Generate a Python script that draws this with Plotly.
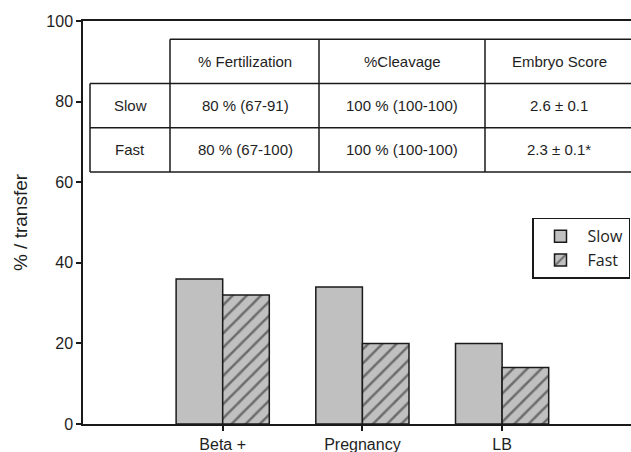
import plotly.graph_objects as go

categories = ["Beta +", "Pregnancy", "LB"]
slow_values = [36, 34, 20]
fast_values = [32, 20, 14]
y_ticks = [0, 20, 40, 60, 80, 100]

table_headers = ["% Fertilization", "%Cleavage", "Embryo Score"]
table_rows = ["Slow", "Fast"]
table_cells = [
    ["80 % (67-91)", "100 % (100-100)", "2.6 ± 0.1"],
    ["80 % (67-100)", "100 % (100-100)", "2.3 ± 0.1*"],
]

W, H = 631, 452
L, R, T, B = 83, 0, 21, 28
plot_w = W - L - R
cat_px = 139.7

def px_to_paper(px):
    return (px - L) / plot_w

LINE = "#1a1a1a"
TXT = "#1e1e1e"
FONT = "Liberation Sans, Arial, sans-serif"

fig = go.Figure()
fig.add_trace(go.Bar(
    x=categories, y=slow_values, name="Slow",
    marker=dict(color="#c0c0c0", line=dict(color=LINE, width=1.5)),
))
fig.add_trace(go.Bar(
    x=categories, y=fast_values, name="Fast",
    marker=dict(color="#c0c0c0", line=dict(color=LINE, width=1.5),
                pattern=dict(shape="/", fgcolor=LINE, bgcolor="#c0c0c0",
                             size=10, solidity=0.25)),
))

# table grid
col_px = [90, 170, 319, 485, W + 5]
row_y = [95.5, 84.5, 73.5, 62.5]
shapes = []
lw = 1.5
shapes.append(dict(type="line", xref="paper", yref="y", x0=px_to_paper(col_px[1]), x1=px_to_paper(col_px[-1]),
                   y0=row_y[0], y1=row_y[0], line=dict(color=LINE, width=lw)))
for yv in row_y[1:]:
    shapes.append(dict(type="line", xref="paper", yref="y", x0=px_to_paper(col_px[0]), x1=px_to_paper(col_px[-1]),
                       y0=yv, y1=yv, line=dict(color=LINE, width=lw)))
shapes.append(dict(type="line", xref="paper", yref="y", x0=px_to_paper(col_px[0]), x1=px_to_paper(col_px[0]),
                   y0=row_y[1], y1=row_y[3], line=dict(color=LINE, width=lw)))
for c in col_px[1:4]:
    shapes.append(dict(type="line", xref="paper", yref="y", x0=px_to_paper(c), x1=px_to_paper(c),
                       y0=row_y[0], y1=row_y[3], line=dict(color=LINE, width=lw)))

annotations = []
centers = [130, 245, 402, 559]
row_centers = [(row_y[i] + row_y[i + 1]) / 2 for i in range(3)]
tfont = dict(size=15, color=TXT, family=FONT)
for j, h in enumerate(table_headers):
    annotations.append(dict(x=px_to_paper(centers[j + 1]), y=row_centers[0], xref="paper", yref="y",
                            xanchor="center", yanchor="middle",
                            text=h, showarrow=False, font=tfont))
for i, rl in enumerate(table_rows):
    annotations.append(dict(x=px_to_paper(centers[0]), y=row_centers[i + 1], xref="paper", yref="y",
                            xanchor="center", yanchor="middle",
                            text=rl, showarrow=False, font=tfont))
    for j, v in enumerate(table_cells[i]):
        annotations.append(dict(x=px_to_paper(centers[j + 1]), y=row_centers[i + 1], xref="paper", yref="y",
                                xanchor="center", yanchor="middle",
                                text=v, showarrow=False, font=tfont))

x_max = -1 + plot_w / cat_px

fig.update_layout(
    width=W, height=H,
    margin=dict(l=L, r=R, t=T, b=B, autoexpand=False),
    paper_bgcolor="white", plot_bgcolor="white",
    barmode="group", bargap=0.333, bargroupgap=0,
    font=dict(family=FONT, color=TXT, size=15),
    shapes=shapes, annotations=annotations,
    legend=dict(x=px_to_paper(532), y=(424 - 218) / 4.025 / 100, xanchor="left", yanchor="top",
                bordercolor=LINE, borderwidth=1.5, bgcolor="white",
                font=dict(family="Open Sans, DejaVu Sans, sans-serif", size=16, color=TXT),
                itemwidth=44, tracegroupgap=4),
    xaxis=dict(range=[-1, x_max], showline=True, linecolor=LINE, linewidth=1.5, mirror=True,
               ticks="outside", ticklen=5, tickwidth=1.5, tickcolor=LINE, showgrid=False,
               automargin=False,
               tickfont=dict(size=16, family=FONT, color=TXT)),
    yaxis=dict(range=[0, 100], tickvals=y_ticks, showline=True, linecolor=LINE, linewidth=1.5,
               ticks="outside", ticklen=5, tickwidth=1.5, tickcolor=LINE, showgrid=False, zeroline=False,
               automargin=False,
               tickfont=dict(size=16, family=FONT, color=TXT),
               title=dict(text="% / transfer", font=dict(size=19, family=FONT, color=TXT), standoff=14)),
)

fig.write_html("out.html", config={"displayModeBar": False},
               post_script="document.body.style.margin='0';document.body.style.overflow='hidden';")
